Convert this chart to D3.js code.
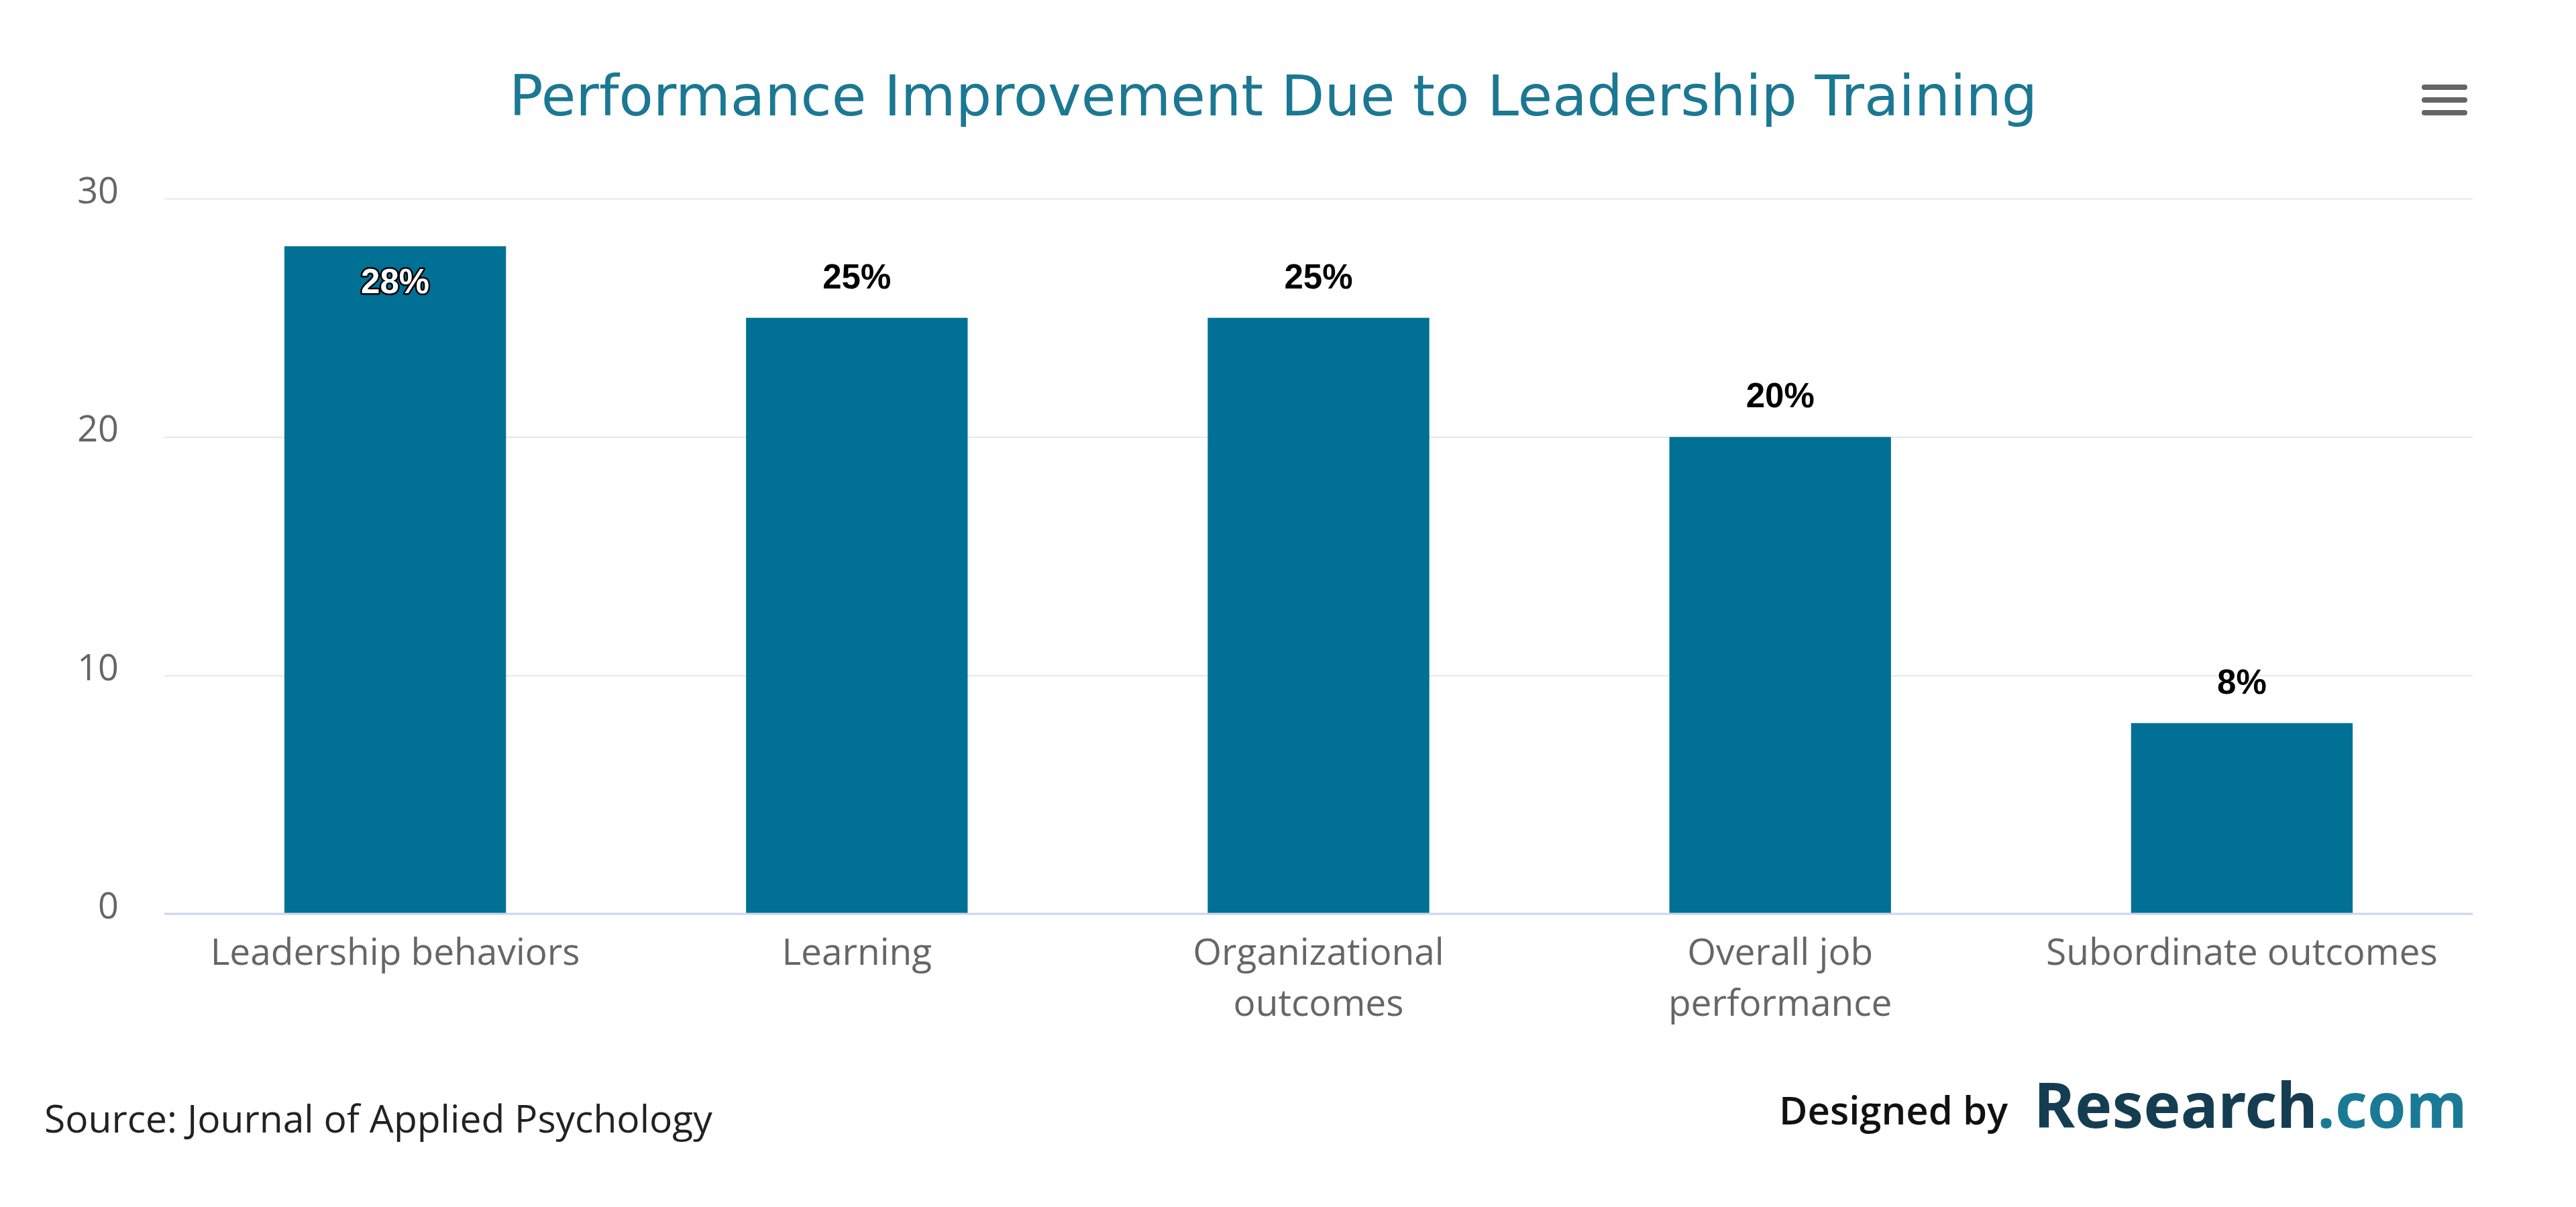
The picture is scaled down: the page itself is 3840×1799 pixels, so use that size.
<!DOCTYPE html>
<html>
<head>
<meta charset="utf-8">
<script src="https://cdn.jsdelivr.net/npm/d3@7"></script>
<style>
  html, body { margin: 0; padding: 0; background: #fff; }
  svg { display: block; }
</style>
</head>
<body>
<svg id="chart" width="3840" height="1799"></svg>
<script>
// chart data
const categories = ['Leadership behaviors', 'Learning', 'Organizational outcomes', 'Overall job performance', 'Subordinate outcomes'];
const values = [28, 25, 25, 20, 8];
const yTicks = [0, 10, 20, 30];
const titleText = 'Performance Improvement Due to Leadership Training';
const sourceText = 'Source: Journal of Applied Psychology';

const W = 3840, H = 1799;
const plot = { left: 245, right: 3686, top: 296, bottom: 1362 };
const barColor = '#017095';
const labelFont = '"Open Sans", "DejaVu Sans", sans-serif';

const svg = d3.select('#chart');
svg.append('rect').attr('width', W).attr('height', H).attr('fill', '#fff');

const x = d3.scaleBand()
  .domain(categories)
  .range([plot.left, plot.right])
  .paddingInner(0.52)
  .paddingOuter(0.26);

const y = d3.scaleLinear()
  .domain([0, 30])
  .range([plot.bottom, plot.top]);

// title
svg.append('text')
  .attr('x', 1898)
  .attr('y', 172)
  .attr('text-anchor', 'middle')
  .attr('fill', '#1b7893')
  .attr('font-family', '"DejaVu Sans", Verdana, sans-serif')
  .attr('font-size', 84)
  .text(titleText);

// hamburger menu icon
const menu = svg.append('g').attr('stroke', '#666').attr('stroke-width', 8).attr('stroke-linecap', 'round');
[130, 149, 168].forEach(yy => {
  menu.append('line').attr('x1', 3614).attr('x2', 3674).attr('y1', yy).attr('y2', yy);
});

// y axis with grid lines
const yAxis = svg.append('g')
  .attr('transform', `translate(${plot.left},0)`)
  .call(d3.axisLeft(y).tickValues(yTicks).tickSize(-(plot.right - plot.left)).tickPadding(68));

yAxis.select('.domain').remove();
yAxis.selectAll('.tick line').attr('stroke', '#e6e6e6').attr('stroke-width', 2);
yAxis.selectAll('.tick text')
  .attr('fill', '#666')
  .attr('font-family', labelFont)
  .attr('font-size', 54)
  .attr('dy', '0.12em');

// bars
svg.append('g').selectAll('rect')
  .data(values)
  .enter()
  .append('rect')
  .attr('x', (d, i) => x(categories[i]))
  .attr('y', d => y(d))
  .attr('width', x.bandwidth())
  .attr('height', d => y(0) - y(d))
  .attr('fill', barColor);

// x axis line
const xAxis = svg.append('g')
  .attr('transform', `translate(0,${plot.bottom})`)
  .call(d3.axisBottom(x).tickSize(0).tickPadding(0));

xAxis.select('.domain').attr('stroke', '#ccd6eb').attr('stroke-width', 3)
  .attr('d', `M${plot.left},0H${plot.right}`);

// wrap category labels like the original
xAxis.selectAll('.tick text')
  .attr('fill', '#666')
  .attr('font-family', labelFont)
  .attr('font-size', 55)
  .each(function (d) {
    const t = d3.select(this);
    const words = d.split(' ');
    t.text(null);
    let lines = [], line = [];
    const probe = t.append('tspan');
    words.forEach(w => {
      probe.text([...line, w].join(' '));
      if (line.length && probe.node().getComputedTextLength() > 610) {
        lines.push(line.join(' '));
        line = [w];
      } else {
        line.push(w);
      }
    });
    lines.push(line.join(' '));
    probe.remove();
    lines.forEach((ln, k) => {
      t.append('tspan').attr('x', 0).attr('y', 76 + k * 76).text(ln);
    });
  })
  .attr('dy', null);

// data labels: above the bar, or inside when they would leave the plot
const dl = svg.append('g')
  .attr('font-family', '"Liberation Sans", Arial, sans-serif')
  .attr('font-weight', 'bold')
  .attr('font-size', 51)
  .attr('text-anchor', 'middle')
  .style('paint-order', 'stroke');

dl.selectAll('text')
  .data(values)
  .enter()
  .append('text')
  .each(function (d, i) {
    const cx = x(categories[i]) + x.bandwidth() / 2;
    const above = y(d) - 62;
    const inside = above - 25 < plot.top;
    d3.select(this)
      .attr('x', cx)
      .attr('y', inside ? y(d) + 52 : above)
      .attr('dy', '0.35em')
      .attr('fill', inside ? '#fff' : '#000')
      .attr('stroke', inside ? '#000' : '#fff')
      .attr('stroke-width', 5)
      .attr('stroke-linejoin', 'round')
      .text(d + '%');
  });

// footer
svg.append('text')
  .attr('x', 66)
  .attr('y', 1688)
  .attr('fill', '#222')
  .attr('font-family', labelFont)
  .attr('font-size', 57)
  .text(sourceText);

svg.append('text')
  .attr('x', 2652)
  .attr('y', 1676)
  .attr('fill', '#111')
  .attr('font-family', labelFont)
  .attr('font-weight', 600)
  .attr('font-size', 58)
  .text('Designed by');

const logo = svg.append('text')
  .attr('x', 3032)
  .attr('y', 1681)
  .attr('font-family', '"Noto Sans", "Open Sans", sans-serif')
  .attr('font-weight', 'bold')
  .attr('font-size', 93);
logo.append('tspan').attr('fill', '#143d52').text('Research');
logo.append('tspan').attr('fill', '#1a7a96').text('.com');
</script>
</body>
</html>
